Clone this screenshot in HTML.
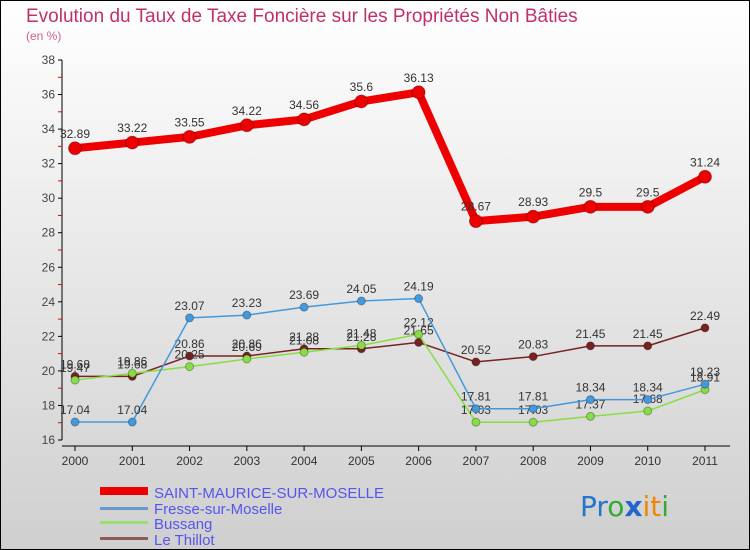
<!DOCTYPE html>
<html><head><meta charset="utf-8"><style>
body{margin:0;width:750px;height:550px;overflow:hidden;font-family:"Liberation Sans",sans-serif}
svg{display:block}
</style></head><body>
<svg id="chart" width="750" height="550" xmlns="http://www.w3.org/2000/svg">
<defs><linearGradient id="bg" x1="0" y1="0" x2="0" y2="1"><stop offset="0" stop-color="#ffffff"/><stop offset="1" stop-color="#cfcfcf"/></linearGradient></defs>
<rect x="0.5" y="0.5" width="749" height="549" fill="url(#bg)" stroke="#000"/>
<text x="26" y="22" font-size="19" fill="#c0306a">Evolution du Taux de Taxe Foncière sur les Propriétés Non Bâties</text>
<text x="26" y="40" font-size="12" fill="#d06090">(en %)</text>
<g id="axes"></g>
<g id="series"></g>
<g>
<rect x="100" y="487" width="48" height="8" fill="#e00"/>
<text x="154" y="498" font-size="15" fill="#5555ee">SAINT-MAURICE-SUR-MOSELLE</text>
<rect x="100" y="507" width="48" height="3" fill="#6699cc"/>
<text x="154" y="514" font-size="15" fill="#5555ee">Fresse-sur-Moselle</text>
<rect x="100" y="521" width="48" height="3" fill="#99dd77"/>
<text x="154" y="529" font-size="15" fill="#5555ee">Bussang</text>
<rect x="100" y="537" width="48" height="3" fill="#8b5a5a"/>
<text x="154" y="545" font-size="15" fill="#5555ee">Le Thillot</text>
</g>
<g font-size="28" font-family="'DejaVu Sans',sans-serif">
<text x="580" y="516"><tspan fill="#2277cc">Pr</tspan><tspan fill="#33aa33">o</tspan><tspan fill="#2266cc" font-weight="bold">x</tspan><tspan fill="#ee8800">it</tspan><tspan fill="#33aa33">i</tspan></text>
</g>
</svg>
<script>
const years=[2000,2001,2002,2003,2004,2005,2006,2007,2008,2009,2010,2011];
const saintMaurice=[32.89,33.22,33.55,34.22,34.56,35.6,36.13,28.67,28.93,29.5,29.5,31.24];
const fresse=[17.04,17.04,23.07,23.23,23.69,24.05,24.19,17.81,17.81,18.34,18.34,19.23];
const bussang=[19.47,19.86,20.25,20.69,21.08,21.48,22.12,17.03,17.03,17.37,17.68,18.91];
const leThillot=[19.68,19.68,20.86,20.86,21.28,21.28,21.65,20.52,20.83,21.45,21.45,22.49];
const yTicks=[16,18,20,22,24,26,28,30,32,34,36,38];
const NS="http://www.w3.org/2000/svg";
const x=i=>75+i*(630/11);
const y=v=>440-(v-16)*(380/22);
function mk(tag,attrs,parent){const e=document.createElementNS(NS,tag);for(const k in attrs)e.setAttribute(k,attrs[k]);parent.appendChild(e);return e;}
const ax=document.getElementById('axes');
const yaxis=mk('line',{x1:62,y1:y(38),x2:62,y2:y(16),stroke:'#000'},ax);


yTicks.forEach(t=>{
 mk('line',{x1:58,x2:62,y1:y(t),y2:y(t),stroke:'#000'},ax);
 if(t<38)mk('line',{x1:58,x2:62,y1:y(t+1),y2:y(t+1),stroke:'#e00'},ax);
 const tx=mk('text',{x:55,y:y(t)+4,'font-size':12,fill:'#444','text-anchor':'end'},ax);
 tx.textContent=t;
 
 
});
const xaxis=mk('line',{x1:62,y1:446,x2:730,y2:446,stroke:'#000'},ax);


years.forEach((yr,i)=>{
 mk('line',{x1:x(i),x2:x(i),y1:446,y2:451,stroke:'#000'},ax);
 const tx=mk('text',{x:x(i),y:465,'font-size':12,fill:'#333','text-anchor':'middle'},ax);
 tx.textContent=yr;
 
 
});
const sg=document.getElementById('series');
function draw(vals,name,color,w,r,fs){
 const g=mk('g',{},sg);
 
 
 const pl=mk('polyline',{points:vals.map((v,i)=>x(i)+','+y(v)).join(' '),fill:'none',stroke:color,'stroke-width':w,'stroke-linejoin':'round'},g);
 
 
 vals.forEach((v,i)=>{
  const c=mk('circle',{cx:x(i),cy:y(v),r:r,fill:color,stroke:'rgba(0,0,0,0.3)'},g);
  
  
  const t=mk('text',{x:x(i),y:y(v)-(r+4),'font-size':fs,fill:'#333','text-anchor':'middle'},g);
  t.textContent=v;
  
  
 });
}
draw(leThillot,'le-thillot','#772222',1.5,4,12);
draw(bussang,'bussang','#88dd44',1.5,4,12);
draw(fresse,'fresse','#4499dd',1.5,4,12);
draw(saintMaurice,'saint-maurice','#ee0000',8,6.5,12);
</script>
</body></html>
